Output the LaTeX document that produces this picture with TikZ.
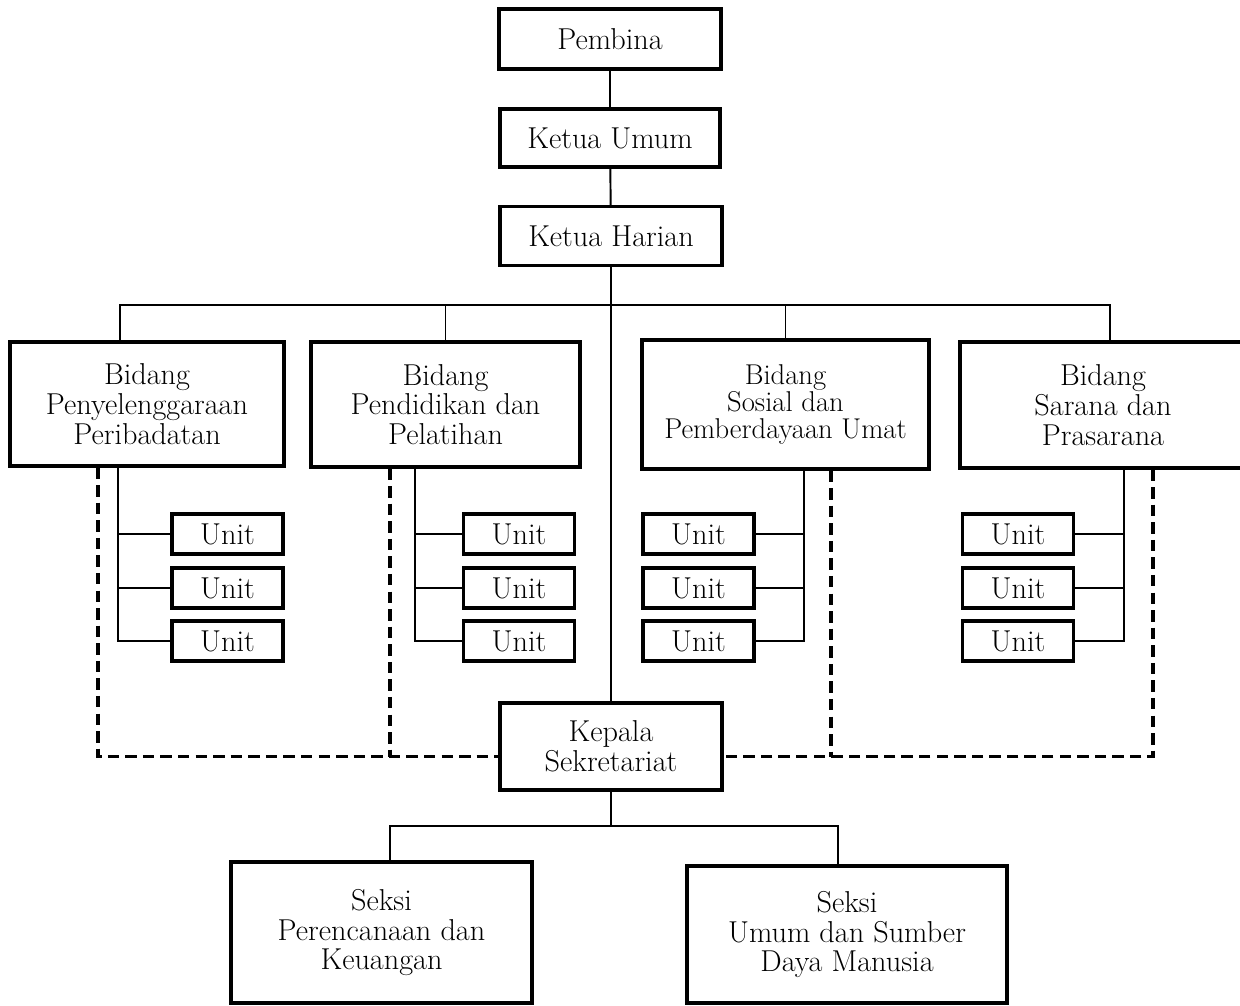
\documentclass[tikz,border=0pt]{standalone}
\usetikzlibrary{positioning,calc}

\begin{document}
\begin{tikzpicture}
		[x=0.02cm, y=-0.02cm,
		kotak/.style={draw, line width=1.8pt, align=center, inner sep=0pt, font=\fontsize{17.2}{17}\selectfont},
		unit/.style={kotak, minimum width=2.22cm, minimum height=0.8cm},
		garis/.style={line width=1.1pt},
		putus/.style={line width=1.8pt, dash pattern=on 6.5pt off 3.5pt}]
		\useasboundingbox (0,0) rectangle (1240,1005);
		\node[kotak, minimum width=4.44cm, minimum height=1.2cm] (pembina) at (610,39) {Pembina};
		\node[kotak, minimum width=4.4cm, minimum height=1.16cm] (ketum) at (610,138) {Ketua Umum};
		\node[kotak, minimum width=4.44cm, minimum height=1.18cm] (harian) at (611,236) {Ketua Harian};
		\node[kotak, minimum width=5.48cm, minimum height=2.48cm] (bid1) at (147,404) {Bidang\\Penyelenggaraan\\Peribadatan};
		\node[kotak, minimum width=5.38cm, minimum height=2.5cm] (bid2) at (445.5,404.5) {Bidang\\Pendidikan dan\\Pelatihan};
		\node[kotak, minimum width=5.74cm, minimum height=2.58cm, font=\fontsize{16.3}{15.4}\selectfont] (bid3) at (785.5,404.5) {Bidang\\Sosial dan\\Pemberdayaan Umat};
		\node[kotak, minimum width=5.72cm, minimum height=2.52cm] (bid4) at (1103,405) {Bidang\\Sarana dan\\Prasarana};
		\foreach \g/\x in {1/227.5, 2/519, 3/698.5, 4/1018}
			\foreach \i/\y in {1/534, 2/588, 3/641}
				\node[unit] (u\g\i) at (\x,\y) {Unit};
		\node[kotak, minimum width=4.44cm, minimum height=1.74cm] (kepala) at (611,746.5) {Kepala\\Sekretariat};
		\node[kotak, minimum width=6.02cm, minimum height=2.82cm] (seksi1) at (381.5,932.5) {Seksi\\Perencanaan dan\\Keuangan};
		\node[kotak, minimum width=6.4cm, minimum height=2.74cm] (seksi2) at (847,934.5) {Seksi\\Umum dan Sumber\\Daya Manusia};

		\draw[garis] (pembina) -- (ketum);
		\draw[garis] (ketum) -- (harian);
		\draw[garis] (harian.south) -- (kepala.north);
		\coordinate (bus) at (613,305);
		\coordinate (b1) at (120,305);
		\coordinate (b4) at (1110,305);
		\draw[garis] (b1 |- bid1.north) -- (b1) -- (b4) -- (b4 |- bid4.north);
		\draw[garis] (bid2.north) -- (bid2.north |- bus);
		\draw[garis] (bid3.north) -- (bid3.north |- bus);

		\foreach \g/\t/\b/\s in {1/118/bid1/west, 2/415/bid2/west, 3/804/bid3/east, 4/1124/bid4/east}
		{
			\coordinate (t\g) at (\t,0);
			\draw[garis] (\b.south -| t\g) |- (u\g3.\s);
			\draw[garis] (u\g1.\s -| t\g) -- (u\g1.\s);
			\draw[garis] (u\g2.\s -| t\g) -- (u\g2.\s);
		}

		\coordinate (kiri) at ([yshift=-0.2cm]kepala.west);
		\coordinate (kanan) at ([yshift=-0.2cm]kepala.east);
		\coordinate (d1) at (98,0);
		\coordinate (d2) at (390,0);
		\coordinate (d3) at (831,0);
		\coordinate (d4) at (1153,0);
		\draw[putus] (bid1.south -| d1) |- (kiri);
		\draw[putus] (bid2.south -| d2) -- (d2 |- kiri);
		\draw[putus] (bid4.south -| d4) |- (kanan);
		\draw[putus] (bid3.south -| d3) -- (d3 |- kanan);

		\coordinate (s1) at (390,826);
		\coordinate (s2) at (838,826);
		\draw[garis] (kepala.south) -- (kepala.south |- s1);
		\draw[garis] (s1 |- seksi1.north) -- (s1) -- (s2) -- (s2 |- seksi2.north);
	\end{tikzpicture}
\end{document}
